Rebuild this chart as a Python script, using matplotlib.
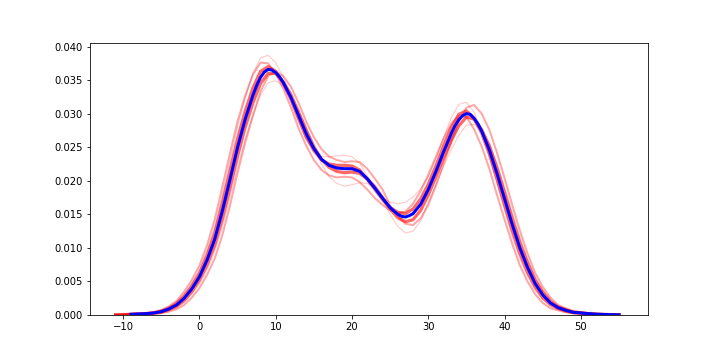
import matplotlib
matplotlib.use("Agg")
import matplotlib.pyplot as plt
import numpy as np

# x grid of the bootstrap curves (one value per unit)
x_boot = np.arange(-11, 56)

# x positions read for the main curve (extra points around the peaks / trough)
x_main = [-9, -8, -7, -6, -5, -4, -3, -2, -1, 0, 1, 2, 3, 4, 5, 6, 7, 7.5, 8, 8.5, 9,
          9.5, 10, 10.5, 11, 12, 13, 14, 15, 16, 17, 18, 19, 20, 21, 22, 23, 24, 25, 26,
          26.5, 27, 27.5, 28, 29, 30, 31, 32, 33, 33.5, 34, 34.5, 35, 35.5, 36, 36.5, 37,
          38, 39, 40, 41, 42, 43, 44, 45, 46, 47, 48, 49, 50, 51, 52, 53, 54, 55]

# main density estimate (blue)
main_kde = [0.0001, 0.00015, 0.0002, 0.0003, 0.0005, 0.0009, 0.0015, 0.0025, 0.0039,
            0.0057, 0.0082, 0.0113, 0.0155, 0.0202, 0.0250, 0.0292, 0.0327, 0.0342, 0.0354,
            0.0362, 0.0366, 0.0365, 0.0361, 0.0355, 0.0346, 0.0324, 0.0297, 0.0270, 0.0248,
            0.0232, 0.0223, 0.0219, 0.0218, 0.0218, 0.0214, 0.0203, 0.0189, 0.0174, 0.0160,
            0.0150, 0.0147, 0.0146, 0.0148, 0.0151, 0.0165, 0.0187, 0.0214, 0.0243, 0.0270,
            0.0282, 0.0291, 0.0297, 0.0300, 0.0299, 0.0293, 0.0285, 0.0274, 0.0246, 0.0211,
            0.0173, 0.0135, 0.0100, 0.0071, 0.0047, 0.0030, 0.0018, 0.0011, 0.0007, 0.0004,
            0.0003, 0.0002, 0.00012, 0.00008, 0.00005, 0.00003]

# bootstrap density estimates (red)
boot_curves = [
    [0.00001, 0.00006, 0.00013, 0.00018, 0.00024, 0.00038, 0.00065, 0.00115, 0.0019, 0.0031,
     0.0047, 0.0068, 0.0096, 0.0131, 0.0179, 0.0230, 0.0281, 0.0324, 0.0360, 0.0383, 0.0387,
     0.0376, 0.0354, 0.0325, 0.0292, 0.0262, 0.0245, 0.0236, 0.0236, 0.0237, 0.0238, 0.0236,
     0.0226, 0.0207, 0.0187, 0.0175, 0.0168, 0.0166, 0.0168, 0.0176, 0.0188, 0.0206, 0.0233,
     0.0264, 0.0294, 0.0314, 0.0317, 0.0302, 0.0274, 0.0237, 0.0196, 0.0156, 0.0117, 0.0084,
     0.0058, 0.0037, 0.0023, 0.0013, 0.0008, 0.0005, 0.0003, 0.00023, 0.00015, 0.00009,
     0.00006, 0.00004, 0.00002],
    [0.0, 0.00001, 0.00007, 0.00012, 0.00016, 0.00023, 0.00035, 0.00065, 0.0011, 0.0019,
     0.0031, 0.0046, 0.0068, 0.0095, 0.0131, 0.0175, 0.0221, 0.0262, 0.0297, 0.0328, 0.0346,
     0.0349, 0.0341, 0.0325, 0.0304, 0.0279, 0.0251, 0.0225, 0.0206, 0.0196, 0.0192, 0.0194,
     0.0197, 0.0196, 0.0189, 0.0171, 0.0150, 0.0132, 0.0122, 0.0125, 0.0140, 0.0168, 0.0194,
     0.0222, 0.0246, 0.0268, 0.0283, 0.0284, 0.0274, 0.0255, 0.0226, 0.0190, 0.0153, 0.0116,
     0.0084, 0.0057, 0.0037, 0.0023, 0.0014, 0.0009, 0.0005, 0.00037, 0.00025, 0.00015,
     0.0001, 0.00006, 0.00004],
    [0.00002, 0.00007, 0.00015, 0.00019, 0.00026, 0.00042, 0.00074, 0.0013, 0.0021, 0.0035,
     0.0052, 0.0074, 0.0104, 0.0142, 0.0191, 0.0241, 0.0289, 0.0327, 0.0358, 0.0376, 0.0375,
     0.0360, 0.0337, 0.0309, 0.0278, 0.0252, 0.0231, 0.0216, 0.0208, 0.0205, 0.0206, 0.0205,
     0.0198, 0.0187, 0.0174, 0.0164, 0.0156, 0.0152, 0.0154, 0.0166, 0.0185, 0.0209, 0.0236,
     0.0263, 0.0285, 0.0297, 0.0295, 0.0277, 0.0251, 0.0218, 0.0179, 0.0142, 0.0106, 0.0074,
     0.0050, 0.0031, 0.0018, 0.0010, 0.0007, 0.0004, 0.00024, 0.00019, 0.00013, 0.00007,
     0.00005, 0.00003, 0.00001],
    [0.0, 0.0, 0.00005, 0.00011, 0.00014, 0.00018, 0.00026, 0.0005, 0.00086, 0.0015,
     0.0026, 0.0040, 0.0060, 0.0084, 0.0119, 0.0163, 0.0212, 0.0257, 0.0297, 0.0333, 0.0356,
     0.0363, 0.0356, 0.0340, 0.0316, 0.0288, 0.0265, 0.0247, 0.0236, 0.0231, 0.0228, 0.0229,
     0.0228, 0.0218, 0.0203, 0.0187, 0.0163, 0.0147, 0.0136, 0.0134, 0.0144, 0.0164, 0.0193,
     0.0225, 0.0258, 0.0288, 0.0309, 0.0313, 0.0300, 0.0276, 0.0242, 0.0204, 0.0164, 0.0126,
     0.0092, 0.0063, 0.0042, 0.0026, 0.0015, 0.0010, 0.0006, 0.0004, 0.00027, 0.00017,
     0.00011, 0.00007, 0.00005],
    [0.00001, 0.00004, 0.00012, 0.00016, 0.00022, 0.00034, 0.00058, 0.0010, 0.0017, 0.0028,
     0.0043, 0.0062, 0.0089, 0.0122, 0.0167, 0.0215, 0.0263, 0.0304, 0.0338, 0.0363, 0.0370,
     0.0363, 0.0345, 0.0321, 0.0292, 0.0265, 0.0245, 0.0231, 0.0225, 0.0223, 0.0223, 0.0222,
     0.0216, 0.0202, 0.0187, 0.0172, 0.0160, 0.0153, 0.0151, 0.0158, 0.0173, 0.0195, 0.0222,
     0.0252, 0.0279, 0.0299, 0.0304, 0.0293, 0.0271, 0.0240, 0.0203, 0.0164, 0.0126, 0.0092,
     0.0064, 0.0042, 0.0026, 0.0016, 0.0010, 0.0006, 0.00035, 0.00026, 0.00018, 0.0001,
     0.00007, 0.00004, 0.00002],
    [0.0, 0.00002, 0.00008, 0.00014, 0.00018, 0.00026, 0.00042, 0.0008, 0.0013, 0.0022,
     0.0035, 0.0052, 0.0075, 0.0104, 0.0143, 0.0189, 0.0237, 0.0280, 0.0316, 0.0345, 0.0360,
     0.0360, 0.0347, 0.0328, 0.0302, 0.0275, 0.0251, 0.0232, 0.0220, 0.0214, 0.0212, 0.0213,
     0.0211, 0.0203, 0.0191, 0.0175, 0.0158, 0.0145, 0.0139, 0.0142, 0.0156, 0.0179, 0.0206,
     0.0234, 0.0260, 0.0282, 0.0295, 0.0292, 0.0276, 0.0252, 0.0219, 0.0182, 0.0144, 0.0108,
     0.0078, 0.0052, 0.0034, 0.0020, 0.0012, 0.0008, 0.00045, 0.00034, 0.00022, 0.00014,
     0.00009, 0.00006, 0.00004],
]

# outer curves faint, inner curves stronger
line_styles = [(0.2, 1.2), (0.2, 1.2), (0.35, 2.0), (0.35, 2.0), (0.6, 3.2), (0.6, 3.2)]

fig, ax = plt.subplots(figsize=(10, 5), dpi=72)
fig.subplots_adjust(left=0.125, right=0.9, bottom=0.125, top=0.88)

for curve, (alpha, lw) in zip(boot_curves, line_styles):
    ax.plot(x_boot, curve, color="red", alpha=alpha, linewidth=lw,
            solid_joinstyle="round")

ax.plot(x_main, main_kde, color="blue", linewidth=3, solid_joinstyle="round")

ax.set_xlim(-14.35, 58.8)
ax.set_ylim(0, 0.0405)

plt.savefig("out.png", dpi=72)
